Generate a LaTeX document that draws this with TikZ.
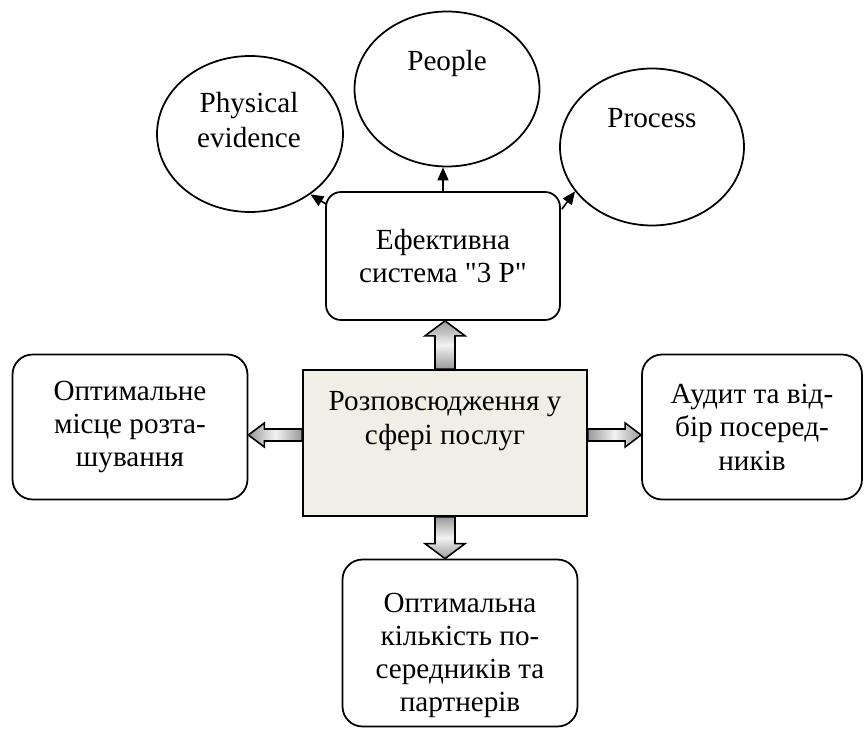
\documentclass[tikz,border=0pt]{standalone}
\usepackage{fontspec}
\setmainfont{Liberation Serif}[Ligatures=TeXOff]
\usetikzlibrary{shapes.geometric,calc,arrows.meta}

\definecolor{boxfill}{RGB}{240,239,230}

\tikzset{
	box/.style={draw, line width=1pt, rounded corners=4mm, align=center, inner sep=0pt, font=\fontsize{16.6}{19}\selectfont},
	circ/.style={draw, ellipse, line width=1pt, inner sep=0pt},
	txt/.style={align=center, font=\fontsize{16.6}{19.5}\selectfont},
	link/.style={-{Triangle[length=2.6mm,width=2.2mm]}, line width=0.9pt},
	blockv/.style={draw, line width=0.9pt, top color=gray!80, bottom color=gray!80, middle color=gray!10},
	blockh/.style={draw, line width=0.9pt, left color=gray!80, right color=gray!80, middle color=gray!10},
}

\begin{document}
\begin{tikzpicture}[x=0.02cm, y=-0.02cm]
		\useasboundingbox (0,0) rectangle (866,729);

		% the three P's
		\node[circ, minimum width=3.72cm, minimum height=3.12cm] (phys) at (250,134) {};
		\node[circ, minimum width=3.7cm, minimum height=3.1cm] (people) at (447,89) {};
		\node[circ, minimum width=3.68cm, minimum height=3.14cm] (proc) at (652,147) {};
		\node[txt] (phys-t) at (249,120) {Physical\\evidence};
		\node[txt] (people-t) at (447,63) {People};
		\node[txt] (proc-t) at (652,118) {Process};

		% boxes
		\node[box, rounded corners=3mm, minimum width=4.68cm, minimum height=2.56cm] (e3p) at (443,256) {Ефективна\\система "3 P"};
		\node[draw, line width=1pt, fill=boxfill, minimum width=5.68cm, minimum height=2.92cm] (dist) at (445,443) {};
		\node[txt] (dist-t) at ($(dist.center)+(0,-22)$) {Розповсюдження у\\сфері послуг};
		\node[box, minimum width=4.7cm, minimum height=2.9cm] (place) at (130,427) {Оптимальне\\місце розта-\\шування};
		\node[box, minimum width=4.4cm, minimum height=2.9cm] (audit) at (752,427) {Аудит та від-\\бір посеред-\\ників};
		\node[box, minimum width=4.7cm, minimum height=3.34cm] (partners) at (460,643) {};
		\node[txt, font=\fontsize{16.6}{18.8}\selectfont] (partners-t) at ($(partners.center)+(0,12)$) {Оптимальна\\кількість по-\\середників та\\партнерів};

		\draw[link] ($(e3p.north west)+(1,13)$) -- (phys.-45);
		\draw[link] (e3p.north) -- (e3p.north |- people.south);
		\draw[link] ($(e3p.north east)+(1,18)$) -- (proc.210);

		% block arrows out of the centre box
		\coordinate (lb) at ($(dist.west)+(0,-8)$);
		\coordinate (rb) at ($(dist.east)+(0,-8)$);
		\draw[blockv] ($(dist.north)+(-10,0)$) -- ($(dist.north |- e3p.south)+(-10,15)$) -- ($(dist.north |- e3p.south)+(-20,15)$) -- (dist.north |- e3p.south) -- ($(dist.north |- e3p.south)+(20,15)$) -- ($(dist.north |- e3p.south)+(10,15)$) -- ($(dist.north)+(10,0)$) -- cycle;
		\draw[blockv] ($(dist.south)+(-10,0)$) -- ($(dist.south |- partners.north)+(-10,-15)$) -- ($(dist.south |- partners.north)+(-20,-15)$) -- (dist.south |- partners.north) -- ($(dist.south |- partners.north)+(20,-15)$) -- ($(dist.south |- partners.north)+(10,-15)$) -- ($(dist.south)+(10,0)$) -- cycle;
		\draw[blockh] ($(lb)+(0,-6)$) -- ($(lb -| place.east)+(16,-6)$) -- ($(lb -| place.east)+(16,-12)$) -- (lb -| place.east) -- ($(lb -| place.east)+(16,12)$) -- ($(lb -| place.east)+(16,6)$) -- ($(lb)+(0,6)$) -- cycle;
		\draw[blockh] ($(rb)+(0,-6)$) -- ($(rb -| audit.west)+(-16,-6)$) -- ($(rb -| audit.west)+(-16,-12)$) -- (rb -| audit.west) -- ($(rb -| audit.west)+(-16,12)$) -- ($(rb -| audit.west)+(-16,6)$) -- ($(rb)+(0,6)$) -- cycle;
	\end{tikzpicture}
\end{document}
